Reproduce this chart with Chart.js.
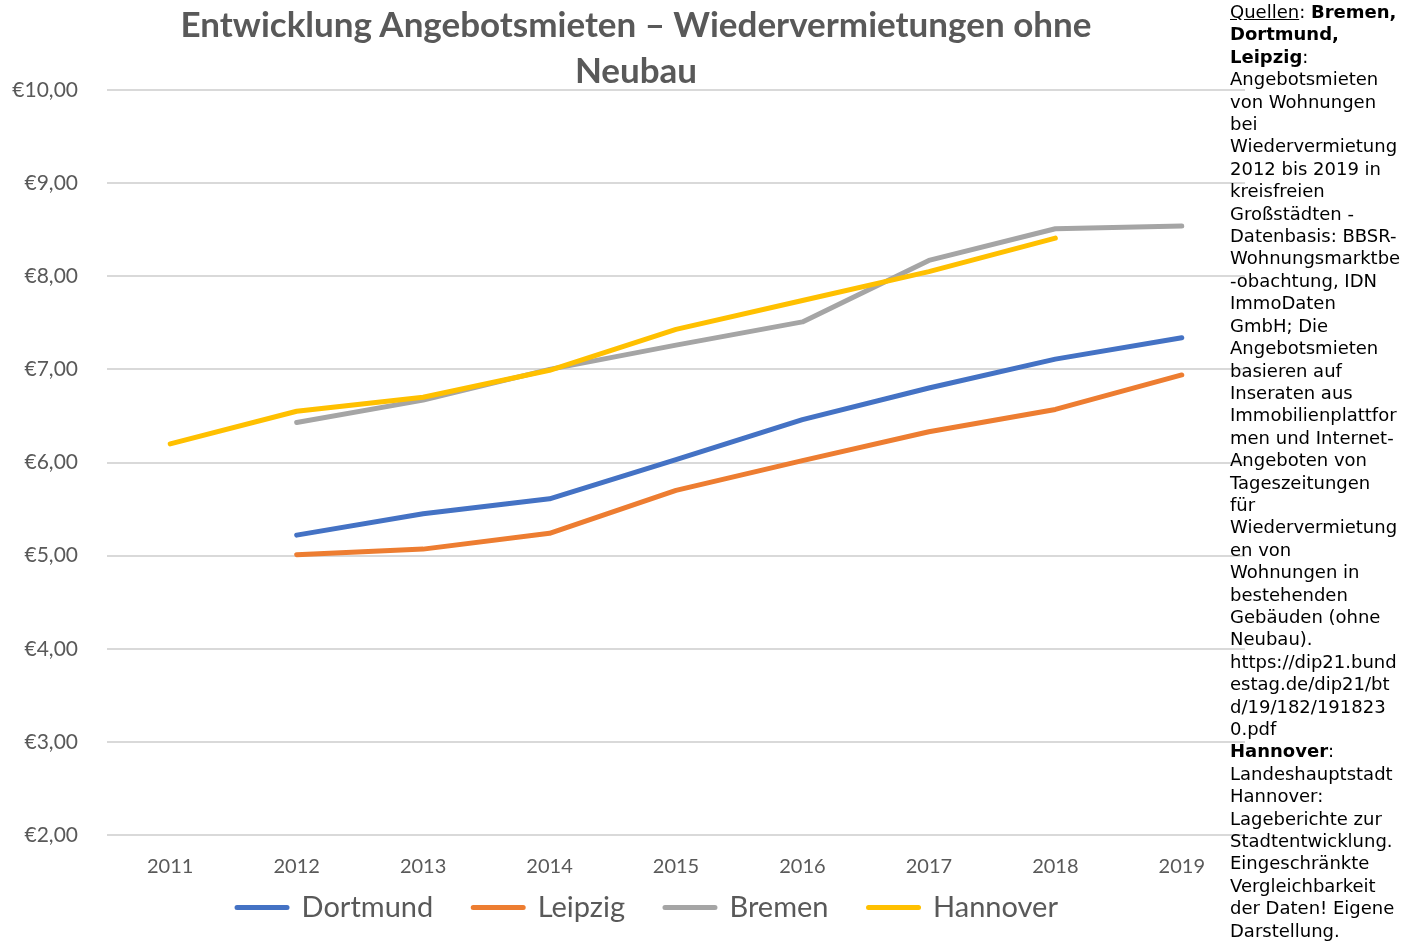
<!DOCTYPE html>
<html>
<head>
<meta charset="utf-8">
<script src="https://cdn.jsdelivr.net/npm/chart.js@4"></script>
<style>
	body { margin: 0; background: #fff; }
	#wrap { position: relative; width: 1409px; height: 942px; }
	#title {
		position: absolute; left: 0; top: 0; width: 1272px;
		text-align: center; font: bold 35px Lato, sans-serif; line-height: 46px; color: #595959;
	}
	#notes {
		position: absolute; left: 1230px; top: 1px; white-space: nowrap;
		font: 18px "DejaVu Sans", sans-serif; line-height: 22.4px; color: #000;
	}
</style>
</head>
<body>
<div id="wrap">
	<canvas id="rentChart"></canvas>
	<div id="title">Entwicklung Angebotsmieten – Wiedervermietungen ohne<br>Neubau</div>
	<div id="notes"><u>Quellen</u>: <b>Bremen,</b><br><b>Dortmund,</b><br><b>Leipzig</b>:<br>Angebotsmieten<br>von Wohnungen<br>bei<br>Wiedervermietung<br>2012 bis 2019 in<br>kreisfreien<br>Großstädten -<br>Datenbasis: BBSR-<br>Wohnungsmarktbe<br>-obachtung, IDN<br>ImmoDaten<br>GmbH; Die<br>Angebotsmieten<br>basieren auf<br>Inseraten aus<br>Immobilienplattfor<br>men und Internet-<br>Angeboten von<br>Tageszeitungen<br>für<br>Wiedervermietung<br>en von<br>Wohnungen in<br>bestehenden<br>Gebäuden (ohne<br>Neubau).<br>https://dip21.bund<br>estag.de/dip21/bt<br>d/19/182/191823<br>0.pdf<br><b>Hannover</b>:<br>Landeshauptstadt<br>Hannover:<br>Lageberichte zur<br>Stadtentwicklung.<br>Eingeschränkte<br>Vergleichbarkeit<br>der Daten! Eigene<br>Darstellung.</div>
</div>
<script>
const years = ["2011", "2012", "2013", "2014", "2015", "2016", "2017", "2018", "2019"];
const dortmund = [null, 5.22, 5.45, 5.61, 6.03, 6.46, 6.80, 7.11, 7.34];
const leipzig = [null, 5.01, 5.07, 5.24, 5.70, 6.02, 6.33, 6.57, 6.94];
const bremen = [null, 6.43, 6.67, 7.00, 7.26, 7.51, 8.17, 8.51, 8.54];
const hannover = [6.20, 6.55, 6.70, 6.99, 7.43, 7.74, 8.05, 8.41, null];

// legend sits a bit right of the plot centre and closer to the axis in the original
const moveLegend = {
	id: "moveLegend",
	afterLayout(chart) {
		const lg = chart.legend;
		lg.left += 20;
		lg.right += 20;
		lg.top -= 38;
		lg.bottom -= 38;
	}
};

new Chart(document.getElementById("rentChart"), {
	type: "line",
	data: {
		labels: years,
		datasets: [
			{ label: "Dortmund", data: dortmund, borderColor: "#4472C4", backgroundColor: "#4472C4", order: 4 },
			{ label: "Leipzig", data: leipzig, borderColor: "#ED7D31", backgroundColor: "#ED7D31", order: 3 },
			{ label: "Bremen", data: bremen, borderColor: "#A5A5A5", backgroundColor: "#A5A5A5", order: 2 },
			{ label: "Hannover", data: hannover, borderColor: "#FFC000", backgroundColor: "#FFC000", order: 1 }
		]
	},
	plugins: [moveLegend],
	options: {
		responsive: true,
		maintainAspectRatio: false,
		animation: false,
		elements: {
			line: { borderWidth: 5, tension: 0, borderCapStyle: "round", borderJoinStyle: "round" },
			point: { radius: 0 }
		},
		layout: { padding: { top: 90, right: 164, bottom: -28, left: 10 } },
		scales: {
			x: {
				offset: true,
				grid: { display: false },
				border: { display: false },
				ticks: { color: "#595959", font: { family: "Lato", size: 20 }, padding: 12 }
			},
			y: {
				min: 2,
				max: 10,
				afterFit: s => { s.width = 97; },
				ticks: {
					stepSize: 1,
					color: "#595959",
					font: { family: "Lato", size: 21 },
					padding: 29,
					callback: v => "€" + v.toFixed(2).replace(".", ",")
				},
				grid: { color: "#d9d9d9", lineWidth: 2, drawTicks: false },
				border: { display: false }
			}
		},
		plugins: {
			legend: {
				position: "bottom",
				labels: {
					color: "#595959",
					font: { family: "Lato", size: 29 },
					boxWidth: 50,
					boxHeight: 0,
					padding: 40,
					sort: (a, b) => a.datasetIndex - b.datasetIndex
				}
			},
			tooltip: { enabled: false }
		}
	}
});
</script>
</body>
</html>
